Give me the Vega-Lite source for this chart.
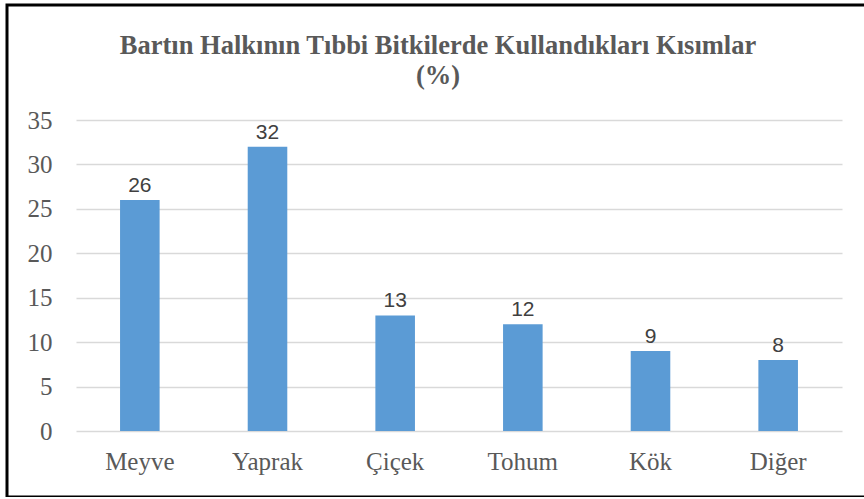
{
  "$schema": "https://vega.github.io/schema/vega-lite/v6.json",
  "width": 870,
  "height": 492,
  "autosize": {"type": "none"},
  "padding": {"left": 7, "top": 5, "right": 0, "bottom": 0},
  "background": "white",
  "title": {
    "text": ["Bartın Halkının Tıbbi Bitkilerde Kullandıkları Kısımlar", "(%)"],
    "font": "Liberation Serif",
    "fontSize": 26.5,
    "fontWeight": "bold",
    "color": "#595959",
    "lineHeight": 30,
    "anchor": "middle",
    "frame": "group",
    "offset": -84,
    "dx": -4
  },
  "data": {
    "values": [
      {"kisim": "Meyve", "deger": 26},
      {"kisim": "Yaprak", "deger": 32},
      {"kisim": "Çiçek", "deger": 13},
      {"kisim": "Tohum", "deger": 12},
      {"kisim": "Kök", "deger": 9},
      {"kisim": "Diğer", "deger": 8}
    ]
  },
  "encoding": {
    "x": {
      "field": "kisim",
      "type": "nominal",
      "sort": null,
      "scale": {"range": [69, 835], "paddingInner": 0.69, "paddingOuter": 0.345},
      "axis": {
        "title": null,
        "orient": "bottom",
        "offset": -48,
        "domain": false,
        "ticks": false,
        "labelPadding": 0,
        "labelAngle": 0,
        "labelFont": "Liberation Serif, Times New Roman, serif",
        "labelFontSize": 25,
        "labelColor": "#595959",
        "labelBaseline": "top"
      }
    },
    "y": {
      "field": "deger",
      "type": "quantitative",
      "scale": {"domain": [0, 35], "range": [426, 115], "nice": false},
      "axis": {
        "title": null,
        "values": [0, 5, 10, 15, 20, 25, 30, 35],
        "offset": -45,
        "domain": false,
        "ticks": false,
        "labelPadding": 0,
        "labelFont": "Liberation Serif, Times New Roman, serif",
        "labelFontSize": 25,
        "labelColor": "#595959",
        "grid": true,
        "gridColor": "#d9d9d9",
        "gridWidth": 1.5
      }
    }
  },
  "layer": [
    {"mark": {"type": "bar", "color": "#5B9BD5"}},
    {
      "mark": {
        "type": "text",
        "baseline": "alphabetic",
        "align": "center",
        "dy": -8,
        "font": "Liberation Sans",
        "fontSize": 21,
        "color": "#404040"
      },
      "encoding": {"text": {"field": "deger", "type": "quantitative"}}
    }
  ],
  "config": {
    "view": {"stroke": "black", "strokeWidth": 3},
    "axis": {"labelFont": "Liberation Serif, Times New Roman, serif"}
  }
}
